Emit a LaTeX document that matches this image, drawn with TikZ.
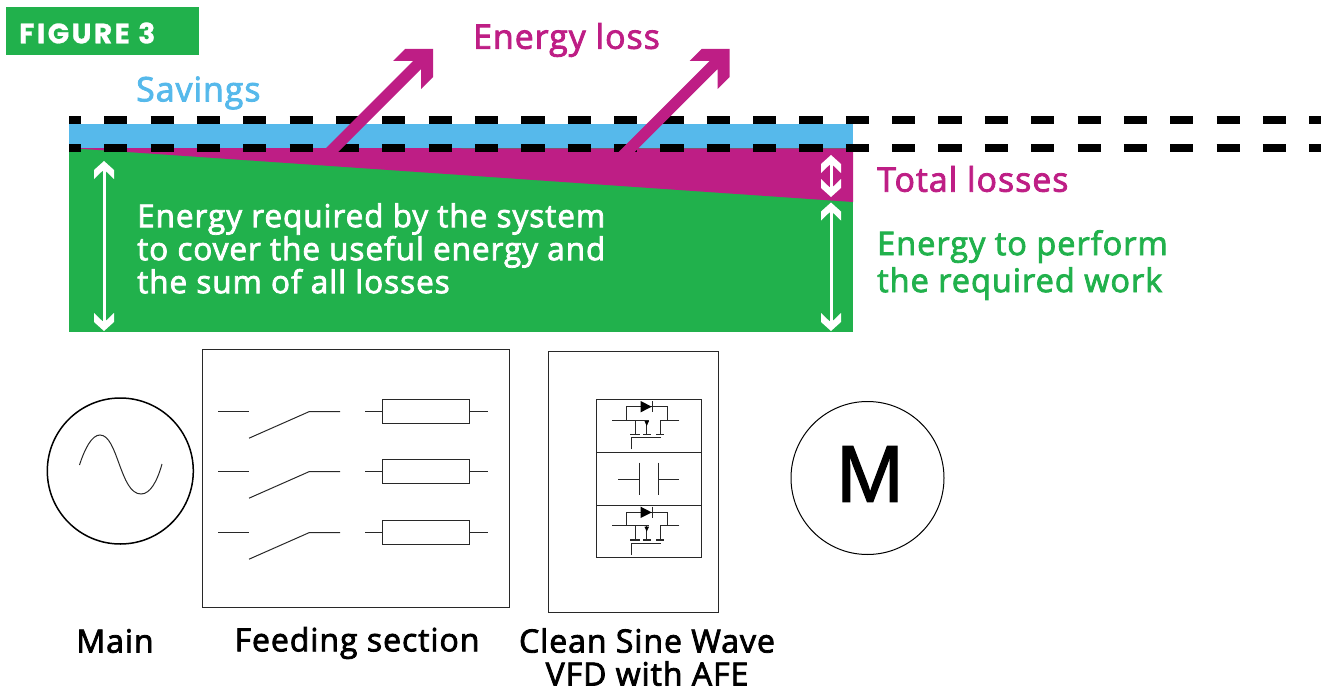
\documentclass[tikz,border=0pt]{standalone}
\usepackage{fontspec}
\setmainfont{Open Sans}
\newfontfamily\labelfont[LetterSpace=3,FakeBold=2.5]{Open Sans}
\newfontfamily\titlefont[LetterSpace=9,FakeBold=1]{Poppins Bold}
\newfontfamily\motorfont[FakeBold=1.5]{Liberation Sans}
\definecolor{barGreen}{RGB}{33,177,76}
\definecolor{barBlue}{RGB}{86,185,235}
\definecolor{lossPurple}{RGB}{190,30,133}
\definecolor{lineGray}{RGB}{40,40,40}
\tikzset{
  caption/.style={inner sep=0pt},
  bigfont/.style={font=\labelfont\fontsize{33.8}{37}\selectfont},
  greenfont/.style={font=\labelfont\fontsize{32.5}{37}\selectfont},
  whitefont/.style={font=\labelfont\fontsize{31.5}{33}\selectfont},
  blackfont/.style={font=\labelfont\fontsize{32}{33}\selectfont},
  dashline/.style={line width=8pt, dash pattern=on 23.2pt off 23.15pt, dash phase=11.2pt},
  thinline/.style={line width=1pt, color=lineGray},
  fusebox/.style={draw=lineGray, line width=1pt, minimum width=86.7pt, minimum height=24pt, inner sep=0pt},
  framebox/.style={draw=lineGray, line width=1pt, inner sep=0pt},
  whitehead/.pic={\fill[white] (0,0) -- (10,9) -- (10,18) -- (1.7,10) -- (-1.7,10) -- (-10,18) -- (-10,9) -- cycle;},
  lossarrow/.pic={\fill[lossPurple] (322,152) -- (413,61) -- (393,61) -- (405,49) -- (433,49)
        -- (433,77) -- (421,89) -- (421,69) -- (338,152) -- cycle;},
  switchcell/.pic={
        \draw[thinline] (218,0) -- (249,0);
        \draw[thinline] (249,26.5) -- (309,0) -- (340,0);},
  igbtcell/.pic={
        \draw[thinline] (22.3,30) -- (59,30);
        \draw[thinline] (89.3,30) -- (70,30) -- (70,44);
        \draw[thinline] (36,30) -- (36,16.7) -- (77,16.7) -- (77,30);
        \draw[thinline] (45,30) -- (45,44);
        \draw[thinline] (56.7,30) -- (56.7,44);
        \draw[line width=1.6pt,color=lineGray] (40,44.3) -- (50,44.3) (53.3,44.3) -- (60.7,44.3) (66,44.3) -- (74,44.3);
        \draw[thinline] (41.7,59.3) -- (41.7,47.7) -- (71,47.7);
        \fill[black] (50.7,11) -- (61.7,16.7) -- (50.7,22.3) -- cycle;
        \draw[thinline] (62.3,11) -- (62.3,22.3);
        \fill[black] (54.5,31) -- (59,31) -- (56.7,36) -- cycle;},
}

\begin{document}
\begin{tikzpicture}[x=1pt,y=-1pt]
        \useasboundingbox (0,0) rectangle (1325,690);
% Draw the bars
        \fill[barGreen] (69,148) coordinate (C) rectangle (853,332) coordinate (D);
        \fill[barBlue] (69,124) rectangle (853,148);
        \fill[lossPurple] (C) -- (853,148.5) -- (853,202) -- cycle;
        \draw[dashline] (69,120) -- (1321,120);
        \draw[dashline] (69,148) -- (1321,148);
        \pic at (0,0) {lossarrow};
        \pic at (296.7,0) {lossarrow};
% Draw the white arrows
        \draw[white,line width=3pt] (104,165) -- (104,327);
        \pic at (104,161) {whitehead};
        \pic[yscale=-1] at (104,331) {whitehead};
        \draw[white,line width=3pt] (831,160) -- (831,192);
        \pic at (831,155) {whitehead};
        \pic[yscale=-1] at (831,197) {whitehead};
        \draw[white,line width=3pt] (831,207) -- (831,327);
        \pic at (831,202.5) {whitehead};
        \pic[yscale=-1] at (831,331) {whitehead};
% Draw the captions
        \node[fill=barGreen, minimum width=193pt, minimum height=48pt, inner sep=0pt] (figbox) at (102.5,31) {};
        \node[anchor=west, inner sep=0pt, text=white, font=\titlefont\fontsize{28}{30}\selectfont] (figlabel) at (19,33) {FIGURE 3};
        \node[caption, bigfont, anchor=west, text=barBlue] (savings) at (136,93) {Savings};
        \node[caption, bigfont, anchor=west, text=lossPurple] (energyloss) at (473,40) {Energy loss};
        \node[caption, bigfont, anchor=west, text=lossPurple] (totalloss) at (877,179) {Total losses};
        \node[caption, greenfont, anchor=north west, text=barGreen, align=left] (workenergy) at (877,230)
             {Energy to perform\\the required work};
        \node[caption, whitefont, anchor=north west, text=white, align=left] (sysenergy) at (137,203)
             {Energy required by the system\\to cover the useful energy and\\the sum of all losses};
        \node[caption, blackfont, anchor=center] (mainlabel) at (115,641) {Main};
        \node[caption, blackfont, anchor=center] (feedlabel) at (357,643) {Feeding section};
        \node[caption, blackfont, anchor=center, align=center] (vfdlabel) at (647,657)
             {Clean Sine Wave\\VFD with AFE};
% Draw main and motor
        \node[circle, draw=black, line width=1.5pt, minimum size=146pt, inner sep=0pt] (mainsrc) at (120.3,471) {};
        \draw[thinline] (79.5,465) .. controls (85,448) and (92,435) .. (100,435)
             .. controls (118,435) and (120,494) .. (141,494)
             .. controls (150,494) and (157,482) .. (162,464);
        \node[circle, draw=black, line width=1pt, minimum size=153pt, inner sep=0pt] (motor) at (867.5,478) {};
        \node[inner sep=0pt, font=\motorfont\fontsize{81}{81}\selectfont] (motorlabel) at (870,474) {M};
% Draw feeding section
        \node[framebox, minimum width=307pt, minimum height=258pt] (feedbox) at (355.5,478) {};
        \foreach \i/\y in {1/411.7,2/471.7,3/532.7}{
            \pic at (0,\y) {switchcell};
            \node[fusebox] (fuse\i) at (426.3,\y) {};
            \draw[thinline] (fuse\i.west) -- ++(-17.5,0);
            \draw[thinline] (fuse\i.east) -- ++(18.3,0);
        }
% Draw VFD
        \node[framebox, minimum width=170pt, minimum height=261pt] (vfdbox) at (633,481.5) {};
        \node[framebox, minimum width=105pt, minimum height=52.5pt] (upcell) at (648.5,425.75) {};
        \node[framebox, minimum width=105pt, minimum height=53pt] (capcell) at (648.5,478.5) {};
        \node[framebox, minimum width=105pt, minimum height=52pt] (lowcell) at (648.5,531) {};
        \pic at (590,390) {igbtcell};
        \pic at (590,495.7) {igbtcell};
        \draw[thinline] (618.3,479) -- (639.3,479);
        \draw[thinline] (639.3,462.7) -- (639.3,495);
        \draw[thinline] (658.3,462.7) -- (658.3,495);
        \draw[thinline] (658.3,479) -- (679.3,479);
\end{tikzpicture}
\end{document}
